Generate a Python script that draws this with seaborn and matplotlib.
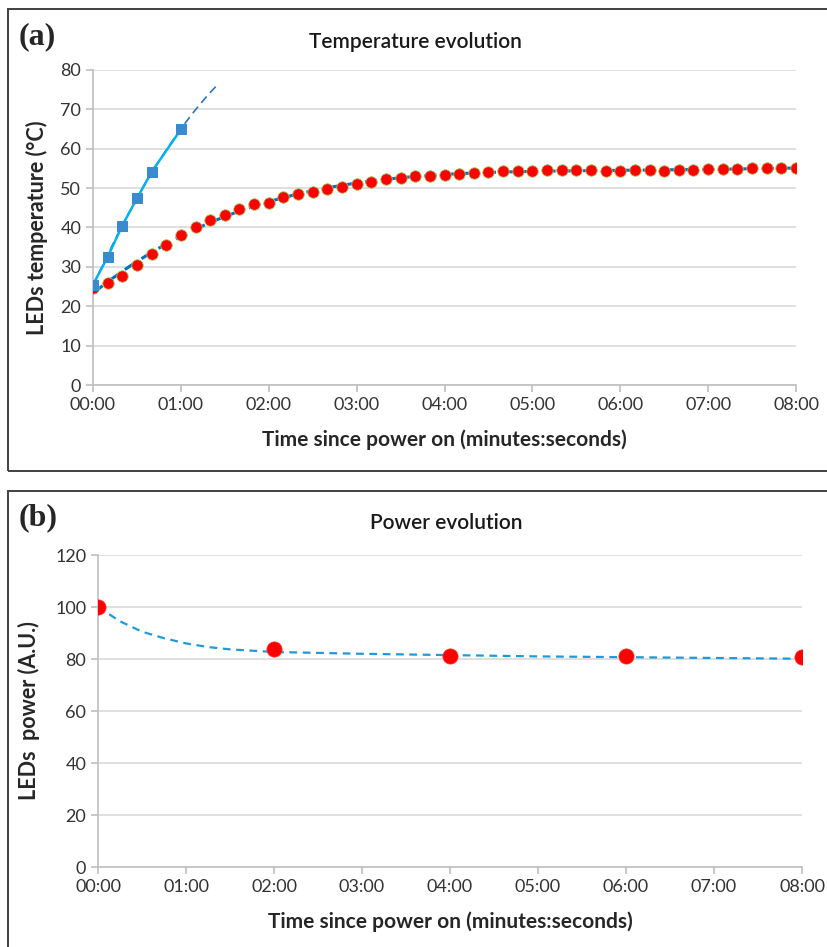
import numpy as np
import pandas as pd
import matplotlib
matplotlib.use("Agg")
import matplotlib.pyplot as plt
from matplotlib.patches import Rectangle
from matplotlib.ticker import FuncFormatter, MultipleLocator
import seaborn as sns

# --- data (time in seconds) ---
temp_time = list(range(0, 490, 10))
temp_led = [24.7, 25.8, 27.8, 30.5, 33.2, 35.6, 38.0, 40.0, 41.8, 43.3,
            44.8, 45.9, 46.3, 47.7, 48.5, 48.9, 49.8, 50.3, 51.1, 51.6,
            52.2, 52.6, 53.0, 53.1, 53.4, 53.7, 53.8, 54.0, 54.3, 54.3,
            54.3, 54.5, 54.7, 54.5, 54.5, 54.4, 54.3, 54.6, 54.5, 54.4,
            54.5, 54.7, 54.8, 54.8, 54.8, 55.0, 55.0, 55.1, 55.1]
fast_time = [0, 10, 20, 30, 40, 60]
fast_led = [25.5, 32.5, 40.5, 47.4, 54.1, 64.9]
fast_trend_end = 84

power_time = [0, 120, 240, 360, 480]
power_led = [100, 83.8, 81.3, 81.0, 80.9]
power_trend_time = [0, 15, 30, 45, 60, 75, 90, 120, 180, 240, 300, 360, 420, 480]
power_trend_val = [100, 94.5, 90.5, 88.0, 86.0, 84.6, 83.7, 82.7, 82.0, 81.5, 81.0, 80.7, 80.4, 80.1]

xticks = list(range(0, 481, 60))

sns.set_style("white")
plt.rcParams["font.family"] = ["Lato", "DejaVu Sans"]

fig = plt.figure(figsize=(8.27, 9.47), dpi=100)

# panel frames
fig.patches.append(Rectangle((8 / 827, 1 - 471 / 947), 1.2, (471 - 9) / 947, transform=fig.transFigure,
                             fill=False, edgecolor="#404040", lw=1.4))
fig.patches.append(Rectangle((8 / 827, -0.05), 1.2, 0.05 + (947 - 491) / 947, transform=fig.transFigure,
                             fill=False, edgecolor="#404040", lw=1.4))

ax1 = fig.add_axes([93 / 827, 1 - 385 / 947, 703 / 827, 315 / 947])
ax2 = fig.add_axes([98 / 827, 1 - 867 / 947, 704 / 827, 312 / 947])

mmss = FuncFormatter(lambda v, p: "%02d:%02d" % (int(v) // 60, int(v) % 60))

# --- panel a ---
df_t = pd.DataFrame({"t": temp_time, "T": temp_led})
df_f = pd.DataFrame({"t": fast_time, "T": fast_led})

c_slow = np.polyfit(np.array(temp_time) / 480, temp_led, 5)
tt = np.linspace(0, 480, 300)
ax1.plot(tt, np.polyval(c_slow, tt / 480), color="#0070C0", lw=2.2, ls=(0, (4, 2.5)), zorder=2)

sns.scatterplot(data=df_t, x="t", y="T", ax=ax1, color="#FF0000", edgecolor="#A8C060",
                linewidth=0.6, s=68, zorder=3, legend=False)

c_fast = np.polyfit(fast_time, fast_led, 2)
tf = np.linspace(0, fast_trend_end, 100)
ax1.plot(tf, np.polyval(c_fast, tf), color="#2E75B6", lw=1.2, ls=(0, (5, 3)), zorder=4)
sns.lineplot(data=df_f, x="t", y="T", ax=ax1, color="#00B0F0", lw=1.8, marker="s",
             markersize=7, markerfacecolor="#3A8AD0", markeredgecolor="#3A8AD0", zorder=5)

ax1.set_ylim(0, 80)
ax1.yaxis.set_major_locator(MultipleLocator(10))
ax1.set_ylabel("LEDs temperature (°C)", fontsize=15.5, fontweight="bold", labelpad=9)

# --- panel b ---
df_p = pd.DataFrame({"t": power_time, "P": power_led})
df_pt = pd.DataFrame({"t": power_trend_time, "P": power_trend_val})
sns.lineplot(data=df_pt, x="t", y="P", ax=ax2, color="#1F9AD6", lw=1.6, zorder=2).lines[0].set_dashes([3.5, 2.5])
sns.scatterplot(data=df_p, x="t", y="P", ax=ax2, color="#FF0000", edgecolor="#FF3030",
                linewidth=0.5, s=120, zorder=3, legend=False)
ax2.set_ylim(0, 120)
ax2.yaxis.set_major_locator(MultipleLocator(20))
ax2.set_ylabel("LEDs  power (A.U.)", fontsize=15.5, fontweight="bold", labelpad=11)

for ax in (ax1, ax2):
    ax.set_xlim(0, 480)
    ax.set_xticks(xticks)
    ax.xaxis.set_major_formatter(mmss)
    ax.set_xlabel("Time since power on (minutes:seconds)", fontsize=15, fontweight="bold", labelpad=12)
    ax.grid(axis="y", color="#D9D9D9", lw=1.2)
    ax.set_axisbelow(True)
    for s in ("top", "right"):
        ax.spines[s].set_visible(False)
    for s in ("left", "bottom"):
        ax.spines[s].set_color("#BFBFBF")
        ax.spines[s].set_linewidth(1.2)
    ax.tick_params(axis="both", labelsize=13, colors="#BFBFBF", labelcolor="#333333",
                   length=5, width=1.2, direction="out", left=True, bottom=True)
    ax.margins(x=0)

fig.text(415 / 827, 1 - 42 / 947, "Temperature evolution", fontsize=15, fontweight="semibold",
         ha="center", va="center", color="#1a1a1a")
fig.text(446 / 827, 1 - 523 / 947, "Power evolution", fontsize=15, fontweight="semibold",
         ha="center", va="center", color="#1a1a1a")
fig.text(19 / 827, 1 - 37 / 947, "(a)", fontsize=23, fontweight="bold", family="Liberation Serif", va="center")
fig.text(19 / 827, 1 - 518 / 947, "(b)", fontsize=23, fontweight="bold", family="Liberation Serif", va="center")

fig.savefig("out.png", dpi=100)
